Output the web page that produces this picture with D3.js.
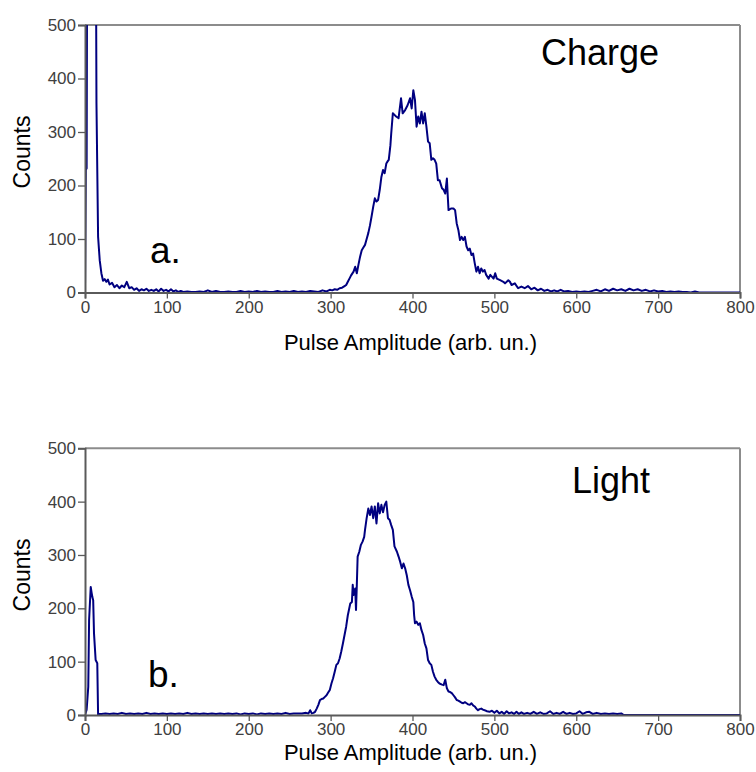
<!DOCTYPE html>
<html><head><meta charset="utf-8">
<script src="https://cdn.jsdelivr.net/npm/d3@7"></script>
<style>
body{margin:0;background:#fff;}
svg text{font-family:"Liberation Sans",Arial,sans-serif;}
</style></head>
<body><svg id="c" width="756" height="772"></svg>
<script>
// ---- data ----
const xTicks = [0,100,200,300,400,500,600,700,800];
const yTicks = [0,100,200,300,400,500];
const xTitle = "Pulse Amplitude (arb. un.)";
const yTitle = "Counts";

const chargeX = [0,1,2,3,6,9,12,13,14,16,18,20,22,24,26,28,30,33,36,39,42,45,48,51,54,57,60,63,66,69,72,75,78,81,84,87,90,93,96,99,102,105,108,111,114,117,120,125,130,135,140,145,150,155,160,165,170,175,180,185,190,195,200,205,210,215,220,225,230,235,240,245,250,255,260,265,270,275,280,285,290,295,299,
302,305,308,311,314,317,319,321,323,325,328,330,332,334,336,338,340,342,344,346,348,350,352,354,356,358,360,362,364,366,368,370,371,373,374,376,378,380,383,386,388,391,394,397,399,401,403,405,407,409,411,413,415,417,419,421,423,425,427,429,431,433,436,438,440,442,443,444,447,450,452,454,456,458,460,462,464,466,468,470,472,474,476,478,480,482,484,486,488,490,493,495,499,501,503,507,511,513,517,519,521,525,529,533,537,541,545,549,553,557,561,565,569,573,577,581,585,590,595,600,605,610,615,620,625,630,635,640,645,650,655,660,665,670,675,680,685,690,695,700,705,710,715,720,725,730,735,740,745,750,760,780,800];
const chargeY = [6,229,232,900,1300,1200,950,800,354,104,60,36,22,25,20,24,15,18,10,14,8,13,10,20,8,10,5,8,3,6,4,7,3,5,3,6,2,7,3,5,2,6,2,4,1,3,1,2,1,1,2,1,4,1,3,1,1,2,1,1,3,1,2,1,3,1,2,1,1,3,1,2,1,3,1,2,1,3,2,1,4,2,5,
4,6,5,8,9,12,14,20,26,32,39,48,36,52,67,79,84,89,100,111,125,142,160,176,170,173,192,216,229,223,241,246,248,275,297,335,332,329,326,363,335,341,350,363,344,378,360,310,329,316,338,316,335,310,282,279,248,251,248,241,210,210,195,192,185,213,182,154,157,157,154,129,117,98,104,98,104,86,79,82,70,73,55,39,48,36,45,39,42,33,26,33,26,36,26,23,20,17,23,20,14,17,8,11,8,12,6,9,4,7,3,5,2,4,2,5,2,3,1,2,1,2,1,3,5,2,6,3,7,4,6,3,7,4,6,3,5,2,4,2,3,1,2,1,2,1,1,0,2,0,0,0,0];

const lightX = [0,2,4,5,7,8,9,10,11,13,15,16,18,20,25,30,35,40,45,50,55,60,65,70,75,80,85,90,95,100,105,110,115,120,125,130,135,140,145,150,155,160,165,170,175,180,185,190,195,200,205,210,215,220,225,230,235,240,245,250,255,260,265,270,273,275,277,279,281,283,285,287,289,291,293,295,297,299,301,303,305,307,309,311,313,315,317,319,321,324,326,327,328,330,331,332,333,335,337,339,341,342,344,346,348,350,352,354,356,358,360,362,364,366,368,370,372,374,376,378,381,383,385,387,389,391,393,395,397,399,401,402,403,405,407,409,411,413,415,417,419,421,423,425,427,429,431,433,436,438,440,442,444,446,448,450,452,454,456,458,460,462,464,466,468,470,472,474,476,478,480,482,484,486,488,491,494,497,500,503,506,509,512,515,518,521,524,527,530,533,536,540,544,548,552,556,560,564,568,572,576,580,584,588,592,596,600,604,608,612,616,620,625,630,635,640,645,650,655,658,700,800];
const lightY = [0,10,53,178,240,230,221,215,153,103,97,0,2,2,3,2,3,2,4,2,3,2,3,2,4,2,3,2,3,2,3,2,3,2,4,2,3,2,3,2,3,2,3,2,3,2,3,1,3,2,3,1,3,2,3,2,3,2,4,2,3,3,3,4,3,9,3,4,6,12,19,28,30,31,34,37,42,47,59,69,81,94,97,106,119,134,150,166,187,209,212,244,225,237,197,244,297,306,319,325,334,347,369,387,375,391,369,391,359,397,378,394,380,394,400,369,366,356,347,316,306,297,287,275,284,275,262,244,234,222,212,187,172,175,169,172,159,150,134,125,103,97,94,81,72,66,62,59,57,56,66,50,44,43,41,37,33,28,27,25,23,22,24,22,20,19,22,18,16,12,9,11,12,10,9,7,6,8,4,8,3,6,2,7,3,5,2,6,2,5,2,4,2,6,2,5,2,3,7,2,4,2,6,2,4,2,3,7,2,5,6,2,4,2,3,2,3,2,3,0,0,0];

const panels = [
  {xs: chargeX, ys: chargeY, top: 25, bottom: 292.5, label: "Charge", lx: 541, ly: 65, tag: "a.", tx: 150, ty: 263, titleY: 350, countsY: 152},
  {xs: lightX, ys: lightY, top: 448.3, bottom: 715, label: "Light", lx: 572, ly: 493, tag: "b.", tx: 148, ty: 687, titleY: 760, countsY: 575}
];

const svg = d3.select("#c");
const left = 85, right = 740;
const x = d3.scaleLinear().domain([0,800]).range([left,right]);

panels.forEach((p,i)=>{
  const y = d3.scaleLinear().domain([0,500]).range([p.bottom,p.top]);
  const g = svg.append("g");
  const cid = "clip"+i;
  svg.append("clipPath").attr("id",cid).append("rect")
    .attr("x",left).attr("y",p.top).attr("width",right-left).attr("height",p.bottom-p.top);
  g.append("line").attr("x1",left).attr("x2",right).attr("y1",p.top).attr("y2",p.top)
    .attr("stroke","#8c8c8c").attr("stroke-width",2);
  g.append("line").attr("x1",right).attr("x2",right).attr("y1",p.top).attr("y2",p.bottom)
    .attr("stroke","#8c8c8c").attr("stroke-width",2);
  const data = p.xs.map((v,k)=>[v,p.ys[k]]);
  g.append("path").datum(data).attr("clip-path",`url(#${cid})`)
    .attr("fill","none").attr("stroke","#000080").attr("stroke-width",2)
    .attr("stroke-linejoin","round")
    .attr("d", d3.line().x(d=>x(d[0])).y(d=>y(d[1])));
  const ax = g.append("g").attr("transform",`translate(0,${p.bottom})`)
    .call(d3.axisBottom(x).tickValues(xTicks).tickSize(6).tickPadding(2).tickFormat(d3.format("d")));
  const ay = g.append("g").attr("transform",`translate(${left},0)`)
    .call(d3.axisLeft(y).tickValues(yTicks).tickSize(7).tickPadding(2).tickFormat(d3.format("d")));
  [ax,ay].forEach(a=>{
    a.select(".domain").attr("stroke","#5a5a5a").attr("stroke-width",2);
    a.selectAll(".tick line").attr("stroke","#5a5a5a").attr("stroke-width",1.3);
    a.selectAll(".tick text").attr("fill","#404040").style("font-size","17px");
  });
  g.append("text").attr("x",(left+right)/2 - 2).attr("y",p.titleY)
    .attr("text-anchor","middle").style("font-size","22px").attr("fill","#000").text(xTitle);
  g.append("text").attr("transform",`translate(30,${p.countsY}) rotate(-90)`)
    .attr("text-anchor","middle").style("font-size","23px").attr("fill","#000").text(yTitle);
  g.append("text").attr("x",p.lx).attr("y",p.ly).style("font-size","36px").attr("fill","#000").text(p.label);
  g.append("text").attr("x",p.tx).attr("y",p.ty).style("font-size","37px").attr("fill","#000").text(p.tag);
});
</script></body></html>
